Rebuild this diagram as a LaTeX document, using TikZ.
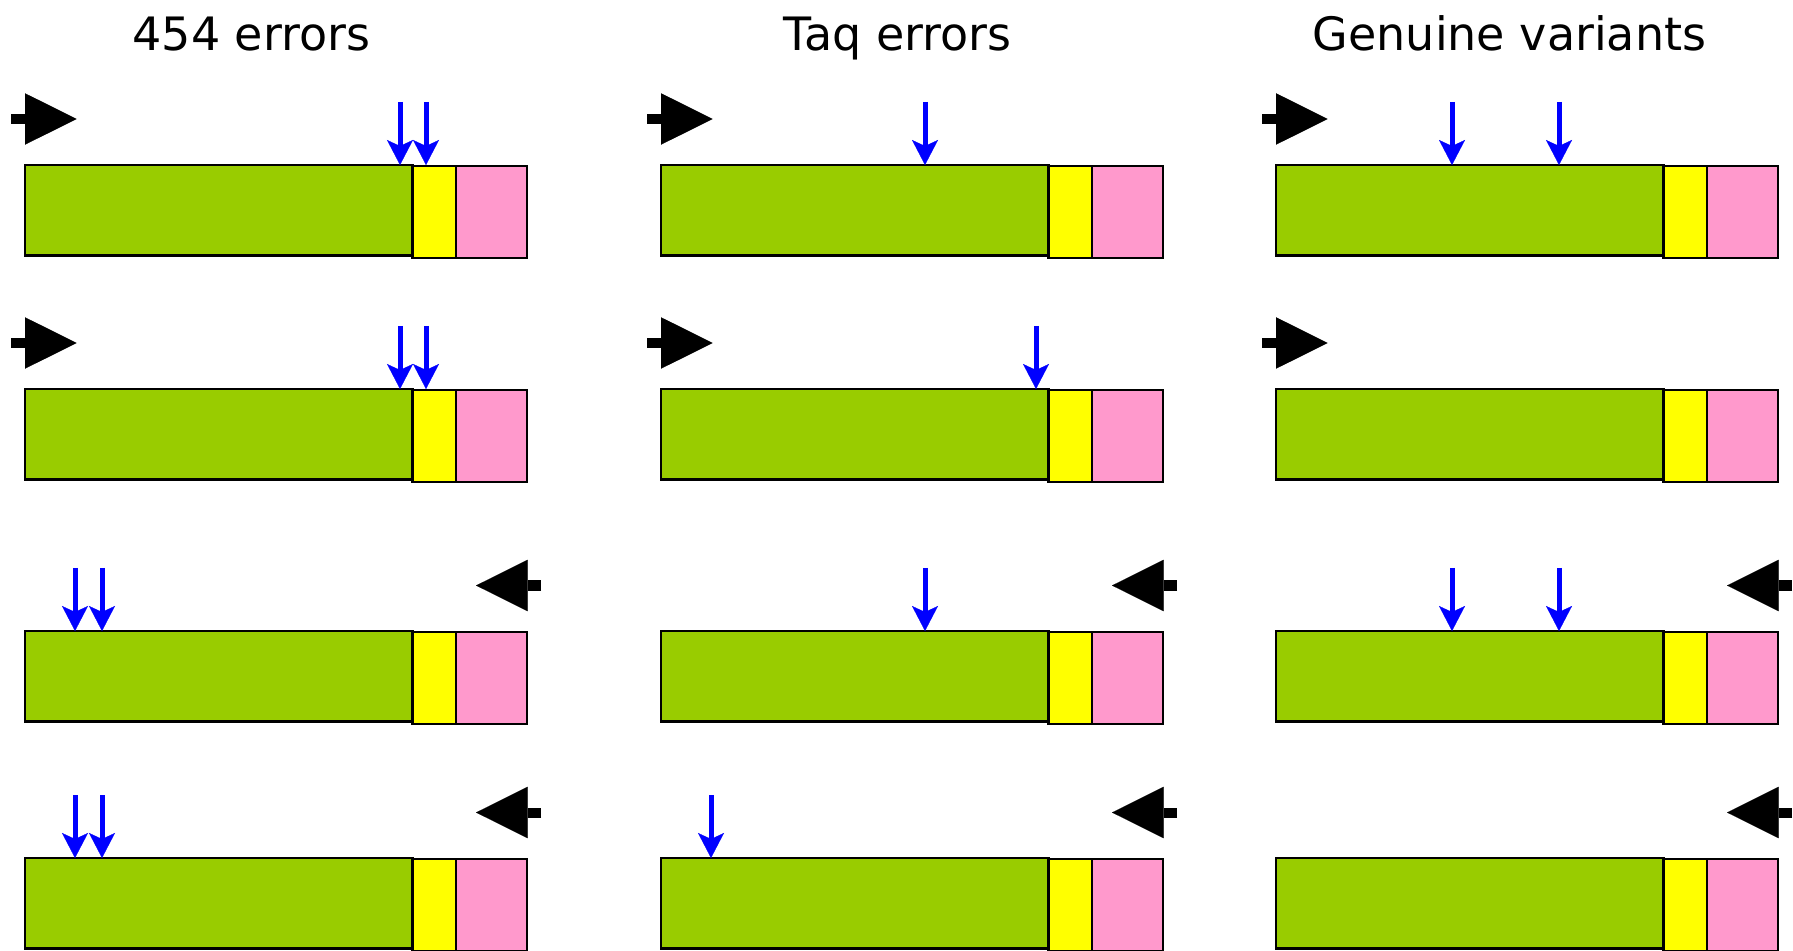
\documentclass[tikz,border=0pt]{standalone}
\usepackage{fontspec}
\setmainfont{DejaVu Sans}
\usepackage{xcolor}
\usetikzlibrary{arrows.meta,calc}

\definecolor{insertgreen}{HTML}{99CC00}
\definecolor{barcodeyellow}{HTML}{FFFF00}
\definecolor{adaptorpink}{HTML}{FF99CC}
\definecolor{snpblue}{HTML}{0000FF}

\begin{document}
\begin{tikzpicture}[x=0.5pt,y=-0.5pt,
    segment/.style={draw, line width=1.2pt, inner sep=0pt, outer sep=0pt, anchor=north west},
    insert/.style={segment, fill=insertgreen, minimum width=193.8pt, minimum height=45.25pt},
    barcode/.style={segment, fill=barcodeyellow, minimum width=21.7pt, minimum height=46pt},
    adaptor/.style={segment, fill=adaptorpink, minimum width=35.4pt, minimum height=46pt},
    primer/.style={line width=5pt, -{Triangle[length=25.8pt, width=25.7pt, line width=0.1pt]}},
    snp/.style={draw=snpblue, line width=2.5pt, -{Stealth[length=12.5pt, width=13pt, inset=3pt, line width=0.1pt]}},
    title/.style={anchor=base, font=\fontsize{23}{28}\selectfont}]
  \useasboundingbox (0,0) rectangle (1793,951);
  % Titles
  \node[title] (t1) at (251.5,51) {454 errors};
  \node[title] (t2) at (897.6,51) {Taq errors};
  \node[title] (t3) at (1509.5,51) {Genuine variants};
  % Reads
  \foreach \c/\X in {1/25,2/661,3/1276}
    \foreach \r/\Y in {1/165,2/389,3/631,4/858} {
      \node[insert] (g\c\r) at (\X,\Y) {};
      \node[barcode] (y\c\r) at (\X+387.6,\Y+1) {};
      \node[adaptor] (p\c\r) at (\X+431,\Y+1) {};
    }
  % Primers
  \foreach \X in {25,661,1276} {
    \foreach \Y in {165,389}
      \draw[primer] (\X-14,\Y-46) -- (\X+51.6,\Y-46);
    \foreach \Y in {631,858}
      \draw[primer] (\X+516,\Y-45.5) -- (\X+451,\Y-45.5);
  }
  % Variant positions
  \foreach \g/\dx in {g11/375,g11/401,g12/375,g12/401,g13/50,g13/77,g14/50,g14/77,
                      g21/264,g22/375,g23/264,g24/50,g31/176,g31/283,g33/176,g33/283}
    \draw[snp] ($(\g.north west)+(\dx,-63)$) -- ($(\g.north west)+(\dx,0)$);
\end{tikzpicture}
\end{document}
